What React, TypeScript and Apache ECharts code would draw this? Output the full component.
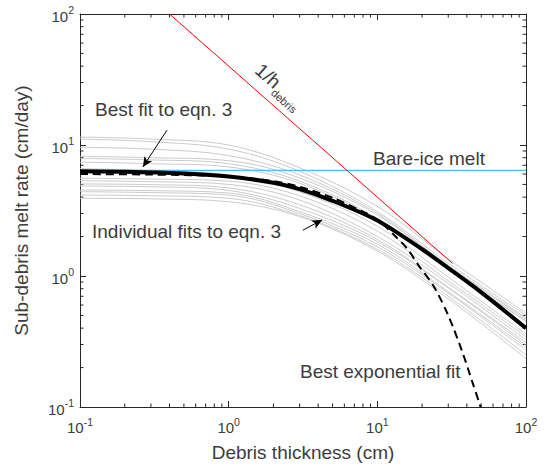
import React, { useEffect, useRef } from "react";
import * as echarts from "echarts";

// ---- data ----
const fitX = [0.1, 0.3, 1, 3, 10, 30, 100];
const individualFits: number[][] = [
  [11.5, 11.1, 10.0, 6.7, 3.4, 1.35, 0.52],
  [11.1, 10.6, 9.3, 6.3, 3.1, 1.25, 0.5],
  [9.6, 9.3, 8.3, 5.9, 3.0, 1.2, 0.48],
  [8.2, 8.0, 7.6, 5.6, 2.92, 1.18, 0.47],
  [7.9, 7.7, 7.2, 5.3, 2.75, 1.14, 0.456],
  [7.4, 7.2, 6.8, 5.1, 2.68, 1.12, 0.45],
  [6.6, 6.4, 5.9, 4.4, 2.4, 0.98, 0.36],
  [5.57, 5.5, 5.3, 4.1, 2.2, 0.92, 0.344],
  [5.34, 5.25, 5.0, 3.8, 2.0, 0.88, 0.325],
  [5.04, 4.98, 4.7, 3.5, 1.9, 0.82, 0.31],
  [4.86, 4.8, 4.5, 3.28, 1.83, 0.81, 0.297],
  [4.53, 4.48, 4.3, 3.1, 1.75, 0.76, 0.285],
  [4.4, 4.33, 4.15, 3.0, 1.67, 0.74, 0.272],
  [4.15, 4.1, 3.92, 2.9, 1.6, 0.7, 0.25],
  [3.92, 3.88, 3.69, 2.84, 1.55, 0.67, 0.235],
];
const bestFitX = [0.1, 0.2, 0.5, 1, 2, 3, 5, 10, 20, 30, 50, 100];
const bestFitY = [6.3, 6.25, 6.05, 5.75, 5.15, 4.6, 3.75, 2.65, 1.6, 1.15, 0.75, 0.4];
const expFitX = [0.1, 0.3, 1, 2, 3, 5, 8, 10, 13, 16, 19, 24, 30, 37, 44, 49.5];
const expFitY = [6.0, 5.95, 5.75, 5.3, 4.8, 3.95, 3.1, 2.7, 2.05, 1.6, 1.2, 0.83, 0.5, 0.27, 0.15, 0.1];
const bareIceX = [0.1, 100];
const bareIceY = [6.4, 6.4];
const inverseX = [0.4, 32];
const inverseY = [100, 1.25];
const arrowBest = [[0.385, 13.0], [0.265, 6.8]];
const arrowIndiv = [[3.16, 2.24], [4.25, 2.68]];
const decades = [-1, 0, 1];
const minorMultipliers = [2, 3, 4, 5, 6, 7, 8, 9];

const FONT = "'Liberation Sans', Arial, Helvetica, sans-serif";
const TXT = "#3c3c3c";
const AX = "#262626";
const FS = 19;

const zip = (xs: number[], ys: number[]) => xs.map((x, i) => [x, ys[i]]);

const tickFmt = (v: number) => {
  const e = Math.round(Math.log10(v));
  return `{b|10}{s|${e}}`;
};
const tickRich = {
  b: { fontSize: 15, fontFamily: FONT, color: TXT, verticalAlign: "bottom" as const },
  s: { fontSize: 10.5, fontFamily: FONT, color: TXT, verticalAlign: "bottom" as const, padding: [0, 0, 8, 0] },
};

export default function App() {
  const ref = useRef<HTMLDivElement>(null);
  useEffect(() => {
    if (!ref.current) return;
    const chart = echarts.init(ref.current, undefined, { renderer: "svg" });
    const logAxisBase = {
      type: "log" as const,
      logBase: 10,
      min: 0.1,
      max: 100,
      splitLine: { show: false },
      axisLine: { show: true, lineStyle: { color: AX, width: 1 } },
      axisTick: { show: true, inside: true, length: 6, lineStyle: { color: AX, width: 1 } },
    };
    const series: any[] = individualFits.map((ys, i) => ({
      name: "fit" + i,
      type: "line",
      data: zip(fitX, ys),
      showSymbol: false,
      smooth: 0.35,
      silent: true,
      lineStyle: { color: "#cbcbcb", width: 1 },
      z: 1,
    }));
    series.push({
      type: "line",
      data: zip(bareIceX, bareIceY),
      showSymbol: false,
      silent: true,
      lineStyle: { color: "#4DBEEE", width: 1.2 },
      z: 2,
    });
    series.push({
      type: "line",
      data: zip(inverseX, inverseY),
      showSymbol: false,
      silent: true,
      lineStyle: { color: "#ff0000", width: 1 },
      z: 3,
    });
    series.push({
      type: "line",
      data: zip(bestFitX, bestFitY),
      showSymbol: false,
      smooth: 0.3,
      silent: true,
      lineStyle: { color: "#000000", width: 4 },
      z: 4,
      markLine: {
        silent: true,
        symbol: ["none", "arrow"],
        symbolSize: [7, 10],
        label: { show: false },
        lineStyle: { color: "#000000", width: 1, type: "solid" },
        data: [
          [{ coord: arrowBest[0] }, { coord: arrowBest[1] }],
          [{ coord: arrowIndiv[0] }, { coord: arrowIndiv[1] }],
        ],
      },
    });
    series.push({
      type: "line",
      data: zip(expFitX, expFitY),
      showSymbol: false,
      smooth: 0.3,
      silent: true,
      lineStyle: { color: "#000000", width: 2, type: [8, 5] },
      z: 5,
    });

    chart.setOption({
      animation: false,
      backgroundColor: "#ffffff",
      grid: { left: 80, right: 22, top: 14, bottom: 63, containLabel: false },
      xAxis: [
        {
          ...logAxisBase,
          position: "bottom",
          axisLabel: { formatter: tickFmt, rich: tickRich, margin: 9 },
          name: "Debris thickness (cm)",
          nameLocation: "middle",
          nameGap: 36,
          nameTextStyle: { fontSize: FS, fontFamily: FONT, color: TXT, verticalAlign: "top" },
        },
        { ...logAxisBase, position: "top", axisLabel: { show: false } },
      ],
      yAxis: [
        {
          ...logAxisBase,
          position: "left",
          axisLabel: { formatter: tickFmt, rich: tickRich, margin: 6 },
          name: "Sub-debris melt rate (cm/day)",
          nameLocation: "middle",
          nameGap: 49,
          nameTextStyle: { fontSize: FS, fontFamily: FONT, color: TXT },
        },
        { ...logAxisBase, position: "right", axisLabel: { show: false } },
      ],
      series,
    });

    // minor ticks + annotations
    const g: any[] = [];
    const x0 = chart.convertToPixel({ xAxisIndex: 0 }, 0.1) as number;
    const x1 = chart.convertToPixel({ xAxisIndex: 0 }, 100) as number;
    const y0 = chart.convertToPixel({ yAxisIndex: 0 }, 0.1) as number;
    const y1 = chart.convertToPixel({ yAxisIndex: 0 }, 100) as number;
    const ml = 3.5;
    const tickStyle = { stroke: AX, lineWidth: 1 };
    decades.forEach((d) => {
      minorMultipliers.forEach((k) => {
        const v = k * Math.pow(10, d);
        const px = chart.convertToPixel({ xAxisIndex: 0 }, v) as number;
        const py = chart.convertToPixel({ yAxisIndex: 0 }, v) as number;
        g.push({ type: "line", silent: true, shape: { x1: px, y1: y0, x2: px, y2: y0 - ml }, style: tickStyle });
        g.push({ type: "line", silent: true, shape: { x1: px, y1: y1, x2: px, y2: y1 + ml }, style: tickStyle });
        g.push({ type: "line", silent: true, shape: { x1: x0, y1: py, x2: x0 + ml, y2: py }, style: tickStyle });
        g.push({ type: "line", silent: true, shape: { x1: x1, y1: py, x2: x1 - ml, y2: py }, style: tickStyle });
      });
    });
    const txt = (text: string, x: number, y: number, extra: any = {}) => ({
      type: "text",
      silent: true,
      x,
      y,
      z: 100,
      style: {
        text,
        fill: TXT,
        fontSize: FS,
        fontFamily: FONT,
        verticalAlign: "middle",
        ...extra,
      },
    });
    g.push(txt("Best fit to eqn. 3", 95, 109));
    g.push(txt("Individual fits to eqn. 3", 92, 231));
    g.push(txt("Bare-ice melt", 373, 158));
    g.push(txt("Best exponential fit", 300, 371));
    const ang = -Math.atan2(249, 281);
    g.push({
      type: "text",
      silent: true,
      x: 268,
      y: 76,
      rotation: ang,
      z: 100,
      style: { text: "1/h", fill: TXT, fontSize: FS, fontFamily: FONT, align: "center", verticalAlign: "middle" },
    });
    g.push({
      type: "text",
      silent: true,
      x: 284,
      y: 101,
      rotation: ang,
      z: 100,
      style: { text: "debris", fill: TXT, fontSize: 11, fontFamily: FONT, align: "center", verticalAlign: "middle" },
    });
    chart.setOption({ graphic: g });

    return () => chart.dispose();
  }, []);
  return (
    <div
      ref={ref}
      style={{ position: "fixed", left: 0, top: 0, width: 548, height: 470, background: "#fff" }}
    />
  );
}
